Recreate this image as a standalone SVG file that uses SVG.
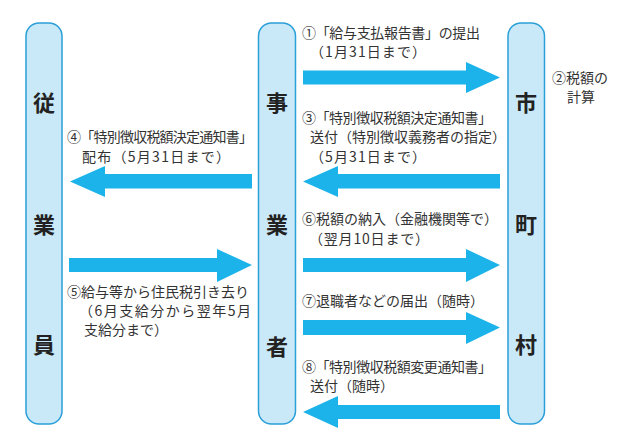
<svg xmlns="http://www.w3.org/2000/svg" width="623" height="441" viewBox="0 0 623 441">
<style>
.pillar{fill:#c9e9f9;stroke:#2a9fd8;stroke-width:1.5}
.pl{font-family:"Noto Sans CJK JP","Noto Sans CJK SC",sans-serif;font-size:22px;font-weight:bold;fill:#222;text-anchor:middle}
.t{font-family:"Noto Sans CJK JP","Noto Sans CJK SC",sans-serif;font-size:14px;fill:#333}
.arr{fill:#1bb3ea}
</style>
<rect width="623" height="441" fill="#fff"/>
<g id="employee">
<rect class="pillar" x="26" y="23" width="36" height="401" rx="13"/>
<text class="pl" x="44" y="111">従</text>
<text class="pl" x="44" y="233">業</text>
<text class="pl" x="44" y="353">員</text>
</g>
<g id="employer">
<rect class="pillar" x="258.5" y="23" width="37" height="401" rx="13"/>
<text class="pl" x="277" y="111">事</text>
<text class="pl" x="277" y="233">業</text>
<text class="pl" x="277" y="355">者</text>
</g>
<g id="municipality">
<rect class="pillar" x="508" y="23" width="36.5" height="401" rx="13"/>
<text class="pl" x="526" y="111">市</text>
<text class="pl" x="526" y="233">町</text>
<text class="pl" x="526" y="353">村</text>
<text class="t" x="552" y="83">②税額の</text>
<text class="t" x="567" y="102">計算</text>
</g>
<g id="connectors">
<polygon class="arr" points="303,70.5 466,70.5 466,62 500,77.5 466,93 466,84.5 303,84.5"/>
<polygon class="arr" points="500,174 338,174 338,166 303,181.5 338,197 338,188.5 500,188.5"/>
<polygon class="arr" points="252,174 105,174 105,166 70,181.5 105,197 105,188.5 252,188.5"/>
<polygon class="arr" points="69,258 217,258 217,249 252,265 217,282 217,272 69,272"/>
<polygon class="arr" points="303,258 466,258 466,249 500,265 466,282 466,272 303,272"/>
<polygon class="arr" points="303,320 466,320 466,312 500,327.5 466,344 466,335 303,335"/>
<polygon class="arr" points="500,405 338,405 338,396 303,412 338,428 338,419 500,419"/>
</g>
<g id="labels">
<text class="t" x="302" y="38" textLength="178">①「給与支払報告書」の提出</text>
<text class="t" x="310" y="57" textLength="116">（1月31日まで）</text>
<text class="t" x="302" y="123" textLength="190">③「特別徴収税額決定通知書」</text>
<text class="t" x="310" y="142">送付（特別徴収義務者の指定）</text>
<text class="t" x="310" y="162" textLength="116">（5月31日まで）</text>
<text class="t" x="67" y="142" textLength="186">④「特別徴収税額決定通知書」</text>
<text class="t" x="82" y="162" textLength="148">配布（5月31日まで）</text>
<text class="t" x="302" y="224">⑥税額の納入（金融機関等で）</text>
<text class="t" x="309" y="244" textLength="120">（翌月10日まで）</text>
<text class="t" x="67" y="297">⑤給与等から住民税引き去り</text>
<text class="t" x="79" y="316" textLength="172">（6月支給分から翌年5月</text>
<text class="t" x="84" y="335">支給分まで）</text>
<text class="t" x="302" y="306">⑦退職者などの届出（随時）</text>
<text class="t" x="302" y="372" textLength="190">⑧「特別徴収税額変更通知書」</text>
<text class="t" x="310" y="391">送付（随時）</text>
</g>
</svg>
